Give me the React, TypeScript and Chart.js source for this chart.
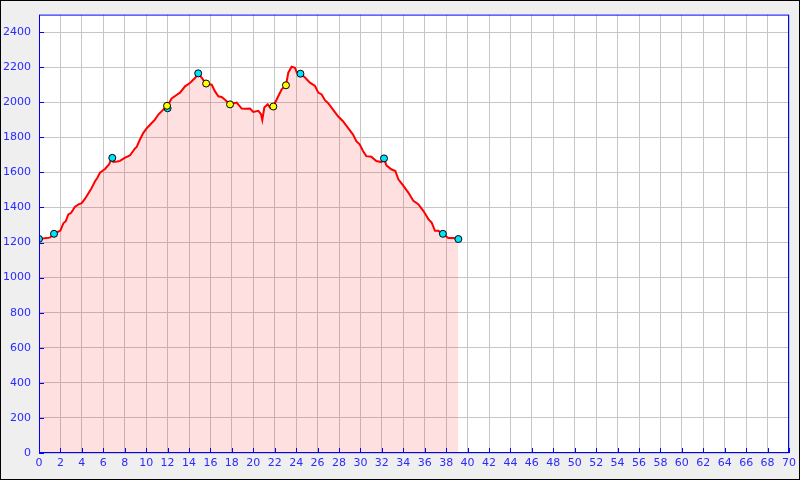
import React, { useEffect, useRef } from "react";
import { Chart, registerables } from "chart.js";

Chart.register(...registerables);

// Distance (km) and elevation (m) of the profile
const distance = [
  0, 0.5, 1.0, 1.4, 1.8, 2.0, 2.27, 2.5, 2.74, 3.0, 3.36, 3.7, 3.98, 4.3, 4.6, 4.9, 5.23, 5.45, 5.69, 6.0,
  6.16, 6.53, 6.84, 6.94, 7.3, 7.56, 8.03, 8.3, 8.5, 8.96, 9.12, 9.4, 9.74, 10.1, 10.52, 10.8, 11.14, 11.6,
  11.95, 12.38, 12.8, 13.16, 13.63, 14.09, 14.56, 14.87, 15.18, 15.59, 16.12, 16.43, 16.74, 17.05, 17.36,
  17.83, 18.2, 18.45, 18.92, 19.3, 19.69, 20.0, 20.47, 20.72, 20.84, 21.03, 21.35, 21.56, 21.87, 22.34,
  22.65, 23.05, 23.27, 23.58, 23.89, 24.05, 24.42, 24.83, 25.29, 25.76, 26.07, 26.38, 26.69, 26.97, 27.44,
  27.91, 28.37, 28.84, 29.31, 29.62, 29.93, 30.24, 30.55, 31.02, 31.48, 31.95, 32.2, 32.42, 32.88, 33.26,
  33.54, 34.0, 34.47, 34.94, 35.4, 35.87, 36.34, 36.65, 36.96, 37.27, 37.73, 38.2, 38.67, 39.14,
];
const elevation = [
  1223, 1225, 1228, 1248, 1262, 1268, 1310, 1322, 1360, 1370, 1405, 1418, 1425, 1450, 1480, 1510, 1550, 1570, 1598, 1612,
  1620, 1646, 1683, 1660, 1662, 1666, 1684, 1692, 1698, 1737, 1745, 1785, 1826, 1855, 1882, 1900, 1930, 1958,
  1975, 2022, 2040, 2055, 2091, 2110, 2138, 2163, 2140, 2106, 2100, 2062, 2034, 2030, 2015,
  1989, 1995, 1998, 1964, 1963, 1964, 1945, 1951, 1932, 1899, 1970, 1989, 1970, 1976, 2036,
  2074, 2097, 2169, 2203, 2197, 2172, 2163, 2141, 2112, 2093, 2055, 2045, 2012, 1996, 1958,
  1920, 1892, 1854, 1816, 1778, 1760, 1722, 1693, 1689, 1665, 1659, 1680, 1640, 1618, 1608,
  1561, 1525, 1485, 1438, 1419, 1381, 1334, 1314, 1267, 1267, 1248, 1226, 1226, 1220,
];

// Waypoint markers
const cyanDist = [0, 1.4, 6.84, 12.0, 14.86, 24.4, 32.2, 37.7, 39.14];
const cyanElev = [1221, 1250, 1683, 1966, 2165, 2163, 1680, 1250, 1220];
const yellowDist = [11.95, 15.6, 17.83, 21.87, 23.05];
const yellowElev = [1980, 2107, 1988, 1976, 2097];

// Axes
const xMin = 0;
const xMax = 70;
const xStep = 2;
const yMin = 0;
const yMax = 2500;
const yStep = 200;

const toPoints = (xs: number[], ys: number[]) => xs.map((x, i) => ({ x, y: ys[i] }));

const framePlugin = {
  id: "frame",
  beforeDraw(chart: any) {
    const ctx = chart.ctx;
    ctx.save();
    ctx.fillStyle = "#efefef";
    ctx.fillRect(0, 0, chart.width, chart.height);
    const a = chart.chartArea;
    ctx.fillStyle = "#ffffff";
    ctx.fillRect(a.left, a.top, a.right - a.left, a.bottom - a.top);
    ctx.restore();
  },
  afterDraw(chart: any) {
    const ctx = chart.ctx;
    const a = chart.chartArea;
    ctx.save();
    ctx.strokeStyle = "#0000ff";
    ctx.lineWidth = 1;
    ctx.strokeRect(a.left + 0.5, a.top + 0.5, a.right - a.left - 1, a.bottom - a.top - 1);
    // inward tick marks
    const xs = chart.scales.x;
    const ys = chart.scales.y;
    ctx.beginPath();
    xs.ticks.forEach((t: any) => {
      const px = Math.round(xs.getPixelForValue(t.value)) + 0.5;
      ctx.moveTo(px, a.bottom);
      ctx.lineTo(px, a.bottom - 5);
    });
    ys.ticks.forEach((t: any) => {
      const py = Math.round(ys.getPixelForValue(t.value)) + 0.5;
      ctx.moveTo(a.left, py);
      ctx.lineTo(a.left + 5, py);
    });
    ctx.stroke();
    ctx.strokeStyle = "#000000";
    ctx.strokeRect(0.5, 0.5, chart.width - 1, chart.height - 1);
    ctx.restore();
  },
};

export default function App() {
  const ref = useRef<HTMLCanvasElement>(null);
  useEffect(() => {
    if (!ref.current) return;
    const labelFont = { family: "DejaVu Sans", size: 11 };
    const chart = new Chart(ref.current, {
      type: "line",
      data: {
        datasets: [
          {
            data: toPoints(yellowDist, yellowElev),
            type: "scatter",
            order: 0,
            pointRadius: 3.5,
            pointBackgroundColor: "#ffff00",
            pointBorderColor: "#000000",
            pointBorderWidth: 1,
            showLine: false,
          } as any,
          {
            data: toPoints(cyanDist, cyanElev),
            type: "scatter",
            order: 1,
            pointRadius: 3.5,
            pointBackgroundColor: "#00e5ff",
            pointBorderColor: "#000000",
            pointBorderWidth: 1,
            showLine: false,
          } as any,
          {
            data: toPoints(distance, elevation),
            order: 2,
            borderColor: "#ff0000",
            borderWidth: 2,
            backgroundColor: "rgba(255,0,0,0.12)",
            fill: "origin",
            pointRadius: 0,
            tension: 0,
          },
        ],
      },
      options: {
        animation: false,
        responsive: false,
        devicePixelRatio: 1,
        layout: { padding: { left: 0, top: 13, right: 11, bottom: 0 } },
        plugins: { legend: { display: false }, tooltip: { enabled: false } },
        scales: {
          x: {
            type: "linear",
            min: xMin,
            max: xMax,
            afterFit: (s: any) => { s.height = 27; },
            grid: { color: "#c6c6c6", drawTicks: false },
            border: { display: false },
            ticks: {
              stepSize: xStep,
              autoSkip: false,
              maxRotation: 0,
              padding: 4,
              color: "#2a2aff",
              font: labelFont,
              includeBounds: false,
              callback: (v: any) => String(v),
            },
          },
          y: {
            type: "linear",
            min: yMin,
            max: yMax,
            afterFit: (s: any) => { s.width = 39; },
            grid: { color: "#c6c6c6", drawTicks: false },
            border: { display: false },
            ticks: {
              stepSize: yStep,
              padding: 8,
              color: "#2a2aff",
              font: labelFont,
              includeBounds: false,
              callback: (v: any) => String(v),
            },
          },
        },
      },
      plugins: [framePlugin],
    });
    return () => chart.destroy();
  }, []);
  return (
    <div style={{ position: "absolute", left: 0, top: 0, width: 800, height: 480 }}>
      <canvas ref={ref} width={800} height={480} />
    </div>
  );
}
